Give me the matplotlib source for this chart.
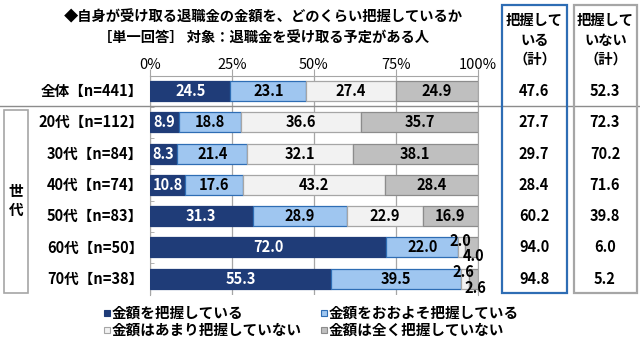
import numpy as np
import matplotlib
matplotlib.use('Agg')
import matplotlib.pyplot as plt
import matplotlib.transforms as mtransforms
from matplotlib.patches import Rectangle
from matplotlib.lines import Line2D

plt.rcParams['font.family'] = ['Noto Sans CJK JP', 'DejaVu Sans']

# data
categories = ['全体【n=441】', '20代【n=112】', '30代【n=84】', '40代【n=74】',
              '50代【n=83】', '60代【n=50】', '70代【n=38】']
know = [24.5, 8.9, 8.3, 10.8, 31.3, 72.0, 55.3]
roughly = [23.1, 18.8, 21.4, 17.6, 28.9, 22.0, 39.5]
little = [27.4, 36.6, 32.1, 43.2, 22.9, 2.0, 2.6]
not_at_all = [24.9, 35.7, 38.1, 28.4, 16.9, 4.0, 2.6]
know_total = [47.6, 27.7, 29.7, 28.4, 60.2, 94.0, 94.8]
not_know_total = [52.3, 72.3, 70.2, 71.6, 39.8, 6.0, 5.2]

series_names = ['金額を把握している', '金額をおおよそ把握している',
                '金額はあまり把握していない', '金額は全く把握していない']
x_ticks = [0, 25, 50, 75, 100]
x_ticklabels = ['0%', '25%', '50%', '75%', '100%']

title1 = '◆自身が受け取る退職金の金額を、どのくらい把握しているか'
title2 = '［単一回答］ 対象：退職金を受け取る予定がある人'

# styles
fills = ['#1f3c78', '#9fc6f0', '#f2f2f2', '#bfbfbf']
edges = ['#1f3c78', '#2e6db4', '#a6a6a6', '#8c8c8c']
txt_colors = ['white', 'black', 'black', 'black']

W, H = 640, 339
fig = plt.figure(figsize=(W / 100, H / 100), dpi=100)
ax = fig.add_axes([150 / W, 1 - 295 / H, 328 / W, (295 - 75.5) / H])

ypos = np.arange(len(categories))
series = [know, roughly, little, not_at_all]
left = np.zeros(len(categories))
for k, vals in enumerate(series):
    vals = np.array(vals)
    ax.barh(ypos, vals, left=left, height=0.64, color=fills[k],
            edgecolor=edges[k], linewidth=0.9, zorder=3)
    for i, v in enumerate(vals):
        cx = left[i] + v / 2
        if v >= 5:
            ax.text(cx, ypos[i], f'{v:.1f}', ha='center', va='center',
                    color=txt_colors[k], fontsize=10.5, fontweight='bold', zorder=4)
        else:
            dx, dy = (-1, 4.5) if k == 2 else (1.5, -6.5)
            ax.annotate(f'{v:.1f}', (cx, ypos[i]), xytext=(dx, dy),
                        textcoords='offset points', ha='center', va='center',
                        fontsize=10.5, fontweight='bold', zorder=5)
    left += vals

ax.set_xlim(0, 100)
ax.set_ylim(6.52, -0.495)
ax.xaxis.tick_top()
ax.set_xticks(x_ticks)
ax.set_xticklabels(x_ticklabels, fontsize=10.5)
ax.tick_params(axis='x', length=5, color='#a6a6a6', pad=-2.5)
ax.set_yticks(ypos[:-1] + 0.5, minor=True)
ax.set_yticks([])
ax.tick_params(axis='y', which='minor', length=3, direction='in', color='#a6a6a6')
for s in ['left', 'right', 'top']:
    ax.spines[s].set_color('#a6a6a6')
ax.spines['bottom'].set_visible(False)
ax.grid(axis='x', color='#a6a6a6', linewidth=0.9, zorder=0)
ax.set_axisbelow(True)

# row labels and total columns
tr = mtransforms.blended_transform_factory(fig.transFigure, ax.transData)
for i, lab in enumerate(categories):
    ax.text(143 / W, ypos[i], lab, transform=tr, ha='right', va='center',
            fontsize=10.5, fontweight='bold')
    ax.text(534 / W, ypos[i], f'{know_total[i]:.1f}', transform=tr,
            ha='center', va='center', fontsize=10.5, fontweight='bold')
    ax.text(605 / W, ypos[i], f'{not_know_total[i]:.1f}', transform=tr,
            ha='center', va='center', fontsize=10.5, fontweight='bold')

# titles
fig.text(263 / W, 1 - 17 / H, title1, ha='center', va='center',
         fontsize=10.3, fontweight='bold')
fig.text(264 / W, 1 - 39 / H, title2, ha='center', va='center',
         fontsize=10.3, fontweight='bold')

# header boxes
for x0, x1, col, head in [(502, 567, '#2e6db4', ['把握して', 'いる', '（計）']),
                          (574, 637, '#a6a6a6', ['把握して', 'いない', '（計）'])]:
    fig.add_artist(Rectangle((x0 / W, 1 - 293 / H), (x1 - x0) / W, 288 / H,
                             transform=fig.transFigure, fill=False,
                             edgecolor=col, linewidth=1.6, zorder=6))
    for j, line in enumerate(head):
        fig.text((x0 + x1) / 2 / W, 1 - (21 + 19.5 * j) / H, line,
                 ha='center', va='center', fontsize=10.3, fontweight='bold')

# separator line under 全体
fig.add_artist(Line2D([0, 1], [1 - 106 / H, 1 - 106 / H], transform=fig.transFigure,
                      color='#8c8c8c', linewidth=1.0, zorder=5))

# 世代 box
fig.add_artist(Rectangle((4 / W, 1 - 293 / H), 24 / W, 183 / H,
                         transform=fig.transFigure, fill=False,
                         edgecolor='#a6a6a6', linewidth=1.2))
fig.text(16 / W, 1 - 191 / H, '世', ha='center', va='center', fontsize=10.5, fontweight='bold')
fig.text(16 / W, 1 - 210 / H, '代', ha='center', va='center', fontsize=10.5, fontweight='bold')

# legend
leg_pos = [(104, 313), (321, 313), (104, 330), (321, 330)]
for k, (lx, ly) in enumerate(leg_pos):
    fig.add_artist(Rectangle((lx / W, 1 - (ly + 3) / H), 6 / W, 6 / H,
                             transform=fig.transFigure, facecolor=fills[k],
                             edgecolor=edges[k], linewidth=0.8))
    fig.text((lx + 8) / W, 1 - ly / H, series_names[k], ha='left', va='center',
             fontsize=10.5, fontweight='bold')

fig.savefig('out.png', dpi=100)
